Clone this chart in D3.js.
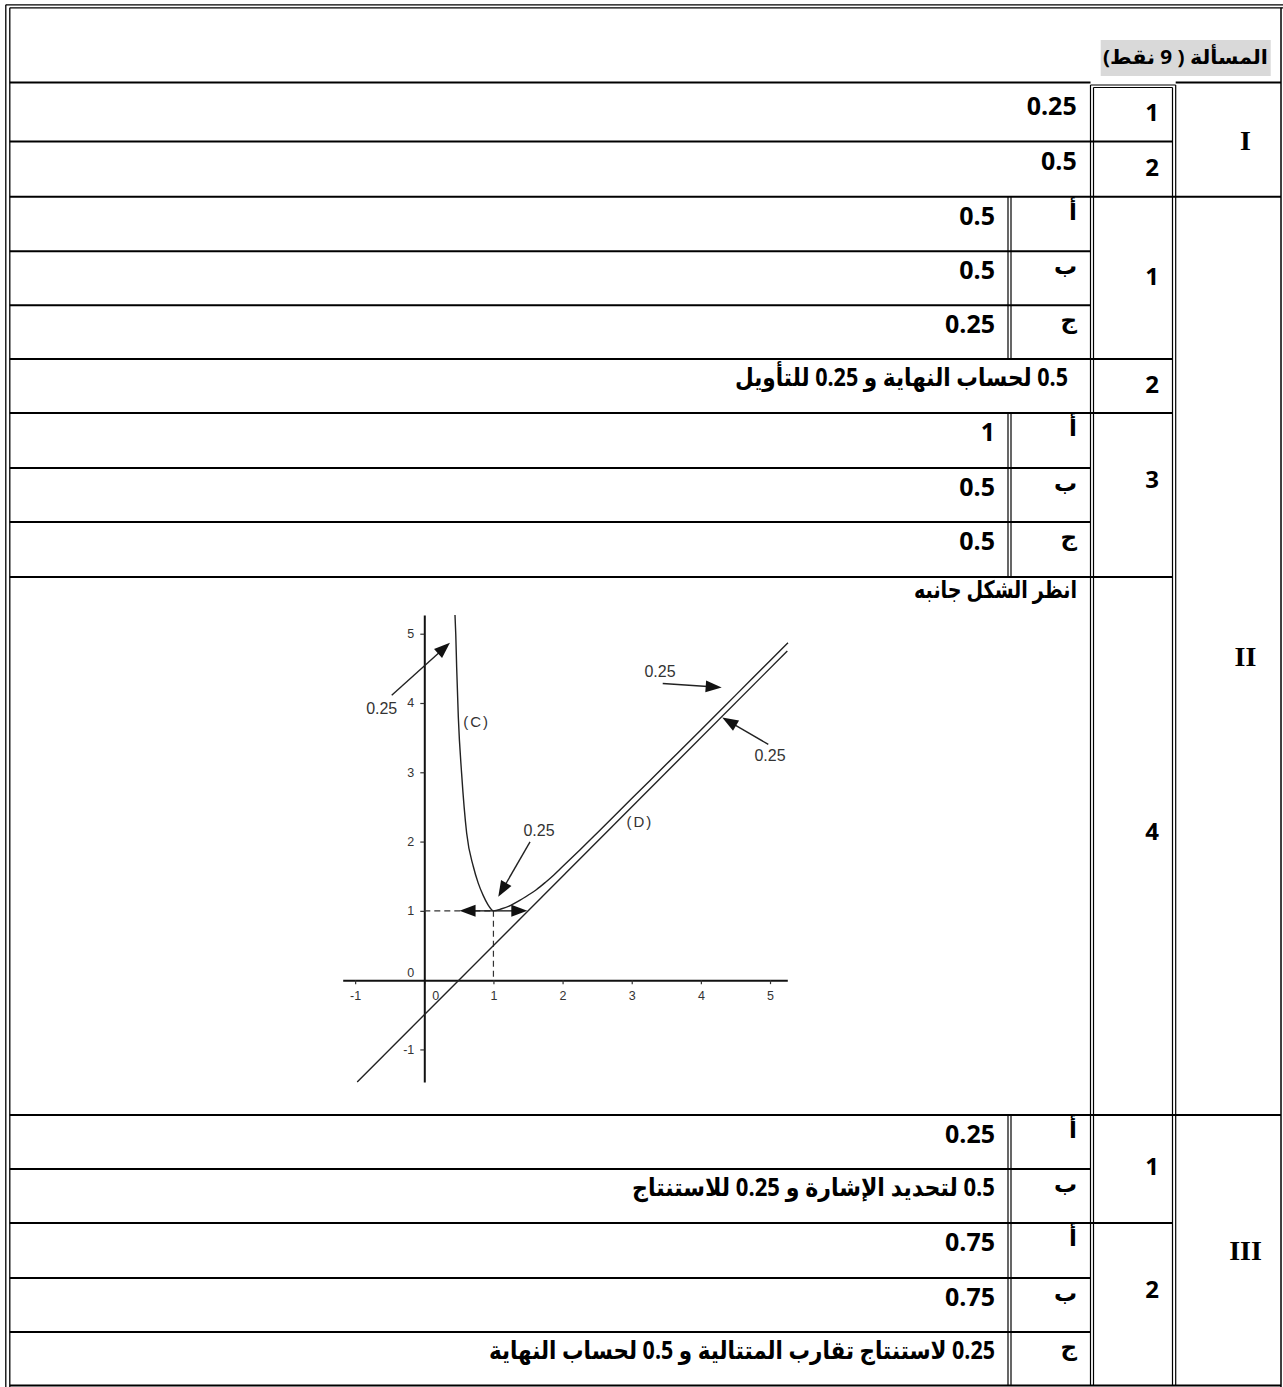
<!DOCTYPE html>
<html><head><meta charset="utf-8">
<script src="https://cdn.jsdelivr.net/npm/d3@7"></script>
<style>
html,body{margin:0;padding:0;background:#fff;}
svg{display:block;}
</style></head><body>
<svg id="page" width="1283" height="1387"></svg>
<script>
// ================= DATA =================
const headerText = "المسألة ( 9 نقط)";
const romanLabels = ["I", "II", "III"];
const partLabels = ["1", "2", "1", "2", "3", "4", "1", "2"];
const letterLabels = ["أ", "ب", "ج"];
const answersI = ["0.25", "0.5"];
const answersII1 = ["0.5", "0.5", "0.25"];
const answerII2 = "0.5 لحساب النهاية و 0.25 للتأويل";
const answersII3 = ["1", "0.5", "0.5"];
const answerII4 = "انظر الشكل جانبه";
const answersIII1 = ["0.25", "0.5 لتحديد الإشارة و 0.25 للاستنتاج"];
const answersIII2 = ["0.75", "0.75", "0.25 لاستنتاج تقارب المتتالية و 0.5 لحساب النهاية"];

// chart data
const xTickValues = [-1, 0, 1, 2, 3, 4, 5];
const yTickValues = [-1, 0, 1, 2, 3, 4, 5];
const curveC = [[0.444,5.27],[0.455,5.0],[0.468,4.52],[0.492,3.8],[0.54,2.98],[0.613,2.12],
  [0.709,1.64],[0.78,1.40],[0.853,1.22],[0.92,1.09],[0.97,1.02],[1.0,1.0],[1.12,1.03],
  [1.25,1.08],[1.38,1.15],[1.5,1.225],[1.62,1.305],[1.75,1.41],[1.87,1.515],[2.0,1.64],
  [2.25,1.88],[2.5,2.125],[3.0,2.62],[3.5,3.115],[4.0,3.61],[4.5,4.11],[5.0,4.61],[5.26,4.87]];
const lineD = [[-0.97,-1.47],[5.25,4.75]];
const curveNames = ["(C)", "(D)"];
const curveNameAt = [[0.757,3.73],[3.119,2.286]];
const arrowLabels = ["0.25", "0.25", "0.25", "0.25"];
const arrowTails = [[-0.471,4.113],[3.448,4.282],[4.975,3.402],[1.529,1.996]];
const arrowHeads = [[0.371,4.868],[4.301,4.224],[4.309,3.791],[1.070,1.202]];
const arrowLabelAt = [[-0.616,3.921],[3.409,4.449],[5.0,3.247],[1.659,2.165]];
const minPoint = [1, 1];
const tangentArrowHeads = [[0.51,1],[1.49,1]];

// ================= DRAWING =================
const svg = d3.select("#page");
const INK = "#000";
const FONT = "'Open Sans', 'DejaVu Sans', sans-serif";
const SERIF = "'Liberation Serif', 'Times New Roman', serif";
const ARIAL = "'Liberation Sans', Arial, sans-serif";

function hline(yv, x1, x2, w) {
  svg.append("line").attr("x1", x1).attr("x2", x2).attr("y1", yv).attr("y2", yv)
    .attr("stroke", INK).attr("stroke-width", w || 2);
}
function vline(xv, y1, y2, w) {
  svg.append("line").attr("x1", xv).attr("x2", xv).attr("y1", y1).attr("y2", y2)
    .attr("stroke", INK).attr("stroke-width", w || 1.2);
}
function txt(str, xv, yv, opts) {
  const t = svg.append("text").attr("x", xv).attr("y", yv)
    .attr("font-family", opts.family || FONT)
    .attr("font-weight", "bold")
    .attr("font-size", opts.size)
    .attr("fill", INK)
    .text(str);
  if (opts.rtl) {
    t.attr("direction", "rtl").style("direction", "rtl").attr("text-anchor", "start");
  } else {
    t.attr("text-anchor", opts.anchor || "end");
  }
  if (opts.len) t.attr("textLength", opts.len).attr("lengthAdjust", "spacingAndGlyphs");
  return t;
}

// --- outer frame (double line) ---
vline(5.8, 4.8, 1387, 1.3);
vline(9.8, 7.8, 1387, 1.3);
hline(4.8, 5.8, 1283, 1.3);
hline(7.8, 9.8, 1283, 1.3);
vline(1281, 7.8, 1387, 1.5);

// column positions
const C = {left: 9.8, aL: 1008, aR: 1011, bL: 1090.5, bR: 1093.5, cL: 1172.5, cR: 1175.7, right: 1281};

// header row
svg.append("rect").attr("x", 1100.7).attr("y", 40).attr("width", 170).attr("height", 36).attr("fill", "#d9d9d9");
txt(headerText, 1268, 64, {size: 20, rtl: true, len: 165});

// horizontal lines
hline(82.5, C.left, C.bL);
hline(82.5, C.cR, C.right);
hline(85, C.bL, C.cR, 1.2);
hline(87.5, C.bR, C.cL, 1.2);
hline(141.5, C.left, C.cL);
hline(196.7, C.left, C.right);
[251.3, 305.3, 468, 522, 1169, 1278, 1332].forEach(v => hline(v, C.left, C.bL));
[359, 413, 577, 1223].forEach(v => hline(v, C.left, C.cL));
hline(1115, C.left, C.right);
hline(1385.5, C.left, C.right);

// vertical double lines
[[196.7, 359], [413, 577], [1115, 1385.5]].forEach(([a, b]) => { vline(C.aL, a, b); vline(C.aR, a, b); });
vline(C.bL, 85, 1385.5);
vline(C.bR, 87.5, 1385.5);
vline(C.cL, 87.5, 1385.5);
vline(C.cR, 85, 1385.5);

// --- texts ---
const contentRight = 995, wideRight = 1076.7, letterRight = 1077, numRight = 1159, romanX = 1245.5;
const CS = 25;   // content digits size
// section I
txt(answersI[0], wideRight, 115, {size: CS});
txt(answersI[1], wideRight, 169.7, {size: CS});
// section II.1
[196.7, 251.3, 305.3].forEach((top, i) => {
  txt(answersII1[i], contentRight, top + 28, {size: CS});
  txt(letterLabels[i], letterRight, top + 23, {size: 23, rtl: true});
});
// II.2
txt(answerII2, 1068, 386, {size: 25, rtl: true, len: 333});
// II.3
[413, 468, 522].forEach((top, i) => {
  txt(answersII3[i], contentRight, top + 28, {size: CS});
  txt(letterLabels[i], letterRight, top + 23, {size: 23, rtl: true});
});
// II.4
txt(answerII4, 1077, 598, {size: 24, rtl: true, len: 163});
// III.1
txt(answersIII1[0], contentRight, 1115 + 28, {size: CS});
txt(letterLabels[0], letterRight, 1115 + 23, {size: 23, rtl: true});
txt(answersIII1[1], contentRight, 1169 + 27, {size: 25, rtl: true, len: 363});
txt(letterLabels[1], letterRight, 1169 + 23, {size: 23, rtl: true});
// III.2
txt(answersIII2[0], contentRight, 1223 + 28, {size: CS});
txt(letterLabels[0], letterRight, 1223 + 23, {size: 23, rtl: true});
txt(answersIII2[1], contentRight, 1278 + 28, {size: CS});
txt(letterLabels[1], letterRight, 1278 + 23, {size: 23, rtl: true});
txt(answersIII2[2], contentRight, 1332 + 27, {size: 25, rtl: true, len: 506});
txt(letterLabels[2], letterRight, 1332 + 23, {size: 23, rtl: true});

// number column
const numBaselines = [121, 176, 284.7, 393, 488, 840, 1175, 1298];
partLabels.forEach((p, i) => txt(p, numRight, numBaselines[i], {size: 24}));
// roman column
const romanBaselines = [150, 666, 1260];
romanLabels.forEach((r, i) => txt(r, romanX, romanBaselines[i], {size: 28, family: SERIF, anchor: "middle"}));

// ================= CHART =================
const x = d3.scaleLinear().domain([-1.18, 5.25]).range([342.7, 787.3]);
const y = d3.scaleLinear().domain([-1.47, 5.27]).range([1082, 615]);
const chart = svg.append("g");
const STROKE = "#222";

const xAxis = chart.append("g").attr("transform", `translate(0,${y(0)})`)
  .call(d3.axisBottom(x).tickValues(xTickValues).tickSize(4).tickSizeOuter(0).tickPadding(7).tickFormat(d => String(d)));
xAxis.select(".domain").attr("stroke", "#111").attr("stroke-width", 2);
xAxis.selectAll(".tick line").attr("stroke", "#333").attr("stroke-width", 1.2);
xAxis.selectAll(".tick text").attr("font-family", ARIAL).attr("font-size", 12.5).attr("fill", "#333");
xAxis.selectAll(".tick").filter(d => d === 0).select("text").attr("dx", 11);

const yAxis = chart.append("g").attr("transform", `translate(${x(0)},0)`)
  .call(d3.axisLeft(y).tickValues(yTickValues).tickSize(4).tickSizeOuter(0).tickPadding(6).tickFormat(d => String(d)));
yAxis.select(".domain").attr("stroke", "#111").attr("stroke-width", 2);
yAxis.selectAll(".tick line").attr("stroke", "#333").attr("stroke-width", 1.2);
yAxis.selectAll(".tick text").attr("font-family", ARIAL).attr("font-size", 12.5).attr("fill", "#333");
yAxis.selectAll(".tick").filter(d => d === 0).select("text").attr("y", -8);
yAxis.selectAll(".tick").filter(d => d === 0).select("line").remove();

// dashed guides at the minimum
const dashed = [[[0, minPoint[1]], minPoint], [minPoint, [minPoint[0], 0]]];
const straight = d3.line().x(d => x(d[0])).y(d => y(d[1]));
dashed.forEach(seg => chart.append("path").attr("d", straight(seg)).attr("fill", "none")
  .attr("stroke", "#333").attr("stroke-width", 1.2).attr("stroke-dasharray", "6,4"));

// line D
chart.append("path").datum(lineD).attr("d", straight).attr("fill", "none")
  .attr("stroke", STROKE).attr("stroke-width", 1.4);
// curve C
chart.append("path").datum(curveC)
  .attr("d", d3.line().x(d => x(d[0])).y(d => y(d[1])).curve(d3.curveMonotoneX))
  .attr("fill", "none").attr("stroke", STROKE).attr("stroke-width", 1.4);

// arrows
function arrow(t, h) {
  const x1 = x(t[0]), y1 = y(t[1]), x2 = x(h[0]), y2 = y(h[1]);
  const dx = x2 - x1, dy = y2 - y1, L = Math.hypot(dx, dy), ux = dx / L, uy = dy / L;
  const hl = 16, hw = 6;
  const bx = x2 - ux * hl, by = y2 - uy * hl;
  chart.append("line").attr("x1", x1).attr("y1", y1).attr("x2", bx + ux * 2).attr("y2", by + uy * 2)
    .attr("stroke", "#222").attr("stroke-width", 1.4);
  chart.append("polygon")
    .attr("points", [[x2, y2], [bx - uy * hw, by + ux * hw], [bx + uy * hw, by - ux * hw]].map(p => p.join(",")).join(" "))
    .attr("fill", "#111");
}
arrowTails.forEach((t, i) => arrow(t, arrowHeads[i]));
tangentArrowHeads.forEach(h => arrow(minPoint, h));

arrowLabels.forEach((l, i) => chart.append("text")
  .attr("x", x(arrowLabelAt[i][0])).attr("y", y(arrowLabelAt[i][1])).attr("dy", "0.35em")
  .attr("text-anchor", "middle").attr("font-family", ARIAL).attr("font-size", 16).attr("fill", "#333").text(l));

curveNames.forEach((n, i) => chart.append("text")
  .attr("x", x(curveNameAt[i][0])).attr("y", y(curveNameAt[i][1])).attr("dy", "0.35em")
  .attr("text-anchor", "middle").attr("font-family", ARIAL).attr("font-size", 15)
  .attr("letter-spacing", 2).attr("fill", "#333").text(n));
</script>
</body></html>
